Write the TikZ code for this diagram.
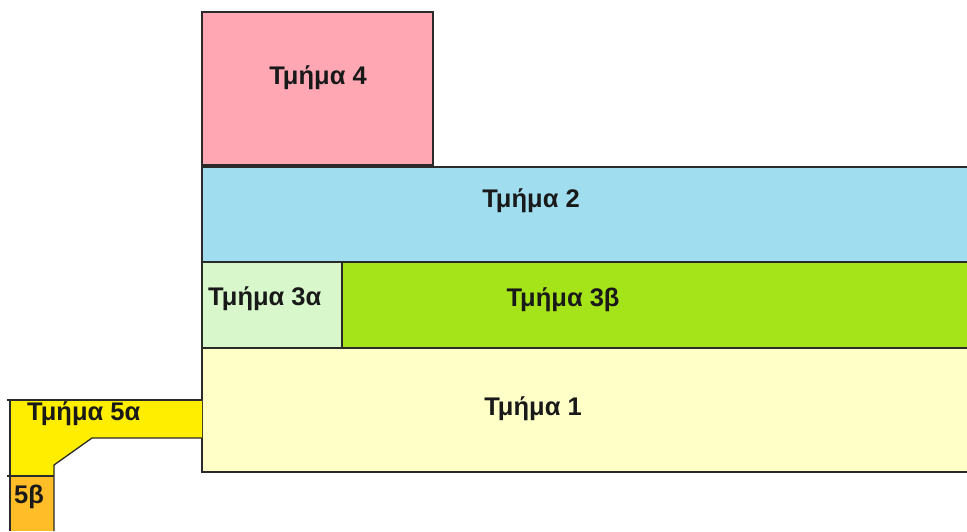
\documentclass[tikz,border=0pt]{standalone}
\usepackage{fontspec}
\setmainfont{Liberation Sans}
\definecolor{cpink}{HTML}{FFA8B4}
\definecolor{cblue}{HTML}{A0DDEE}
\definecolor{clgreen}{HTML}{D8F8CC}
\definecolor{cgreen}{HTML}{A6E41A}
\definecolor{cpale}{HTML}{FFFFC8}
\definecolor{cyel}{HTML}{FFEE00}
\definecolor{corange}{HTML}{FFBE28}
\definecolor{cline}{HTML}{2A2A2A}
\tikzset{
  part/.style={draw=cline, line width=1.3pt},
  lbl/.style={font=\fontsize{25.5}{28}\selectfont\bfseries, text=black!90, inner sep=0pt},
}
\begin{document}
\begin{tikzpicture}[x=1pt,y=-1pt]
\useasboundingbox (0,0) rectangle (967,531);
% Tmima 4
\path[part, fill=cpink] (202,12) rectangle (433,165);
% Tmima 2
\fill[cblue] (202,167) rectangle (967,262);
\draw[part] (967,167) -- (202,167) -- (202,262) -- (967,262);
% Tmima 3a, 3b
\fill[clgreen] (202,263) rectangle (342,348);
\fill[cgreen] (342,263) rectangle (967,348);
\draw[part] (342,263) -- (342,348);
\draw[part] (202,263) -- (202,348);
% Tmima 1
\fill[cpale] (202,348) rectangle (967,472);
\draw[part] (967,348) -- (202,348) -- (202,472) -- (967,472);
% Tmima 5a
\fill[cyel] (10,400) -- (202,400) -- (202,438) -- (92,438) -- (54,465) -- (54,476) -- (10,476) -- cycle;
\fill[corange] (10,476) rectangle (54,531);
\draw[part] (202,400) -- (7,400);
\draw[part] (202,438) -- (92,438) -- (54,465) -- (54,531);
\draw[part] (10,400) -- (10,531);
\draw[part] (7,476) -- (54,476);
% labels
\node[lbl] (t4) at (318,78) {Τμήμα 4};
\node[lbl] (t2) at (531,201) {Τμήμα 2};
\node[lbl, anchor=west] (t3a) at (208,299) {Τμήμα 3α};
\node[lbl] (t3b) at (563,300) {Τμήμα 3β};
\node[lbl] (t1) at (533,409) {Τμήμα 1};
\node[lbl, anchor=west] (t5a) at (27,414) {Τμήμα 5α};
\node[lbl, anchor=west] (t5b) at (14,497) {5β};
\end{tikzpicture}
\end{document}
